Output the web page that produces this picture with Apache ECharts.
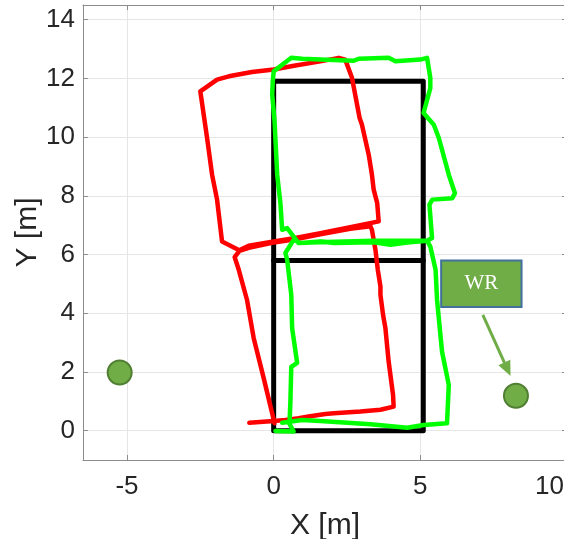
<!DOCTYPE html>
<html><head><meta charset="utf-8">
<script src="https://cdn.jsdelivr.net/npm/echarts@6/dist/echarts.min.js"></script>
<style>html,body{margin:0;padding:0;background:#fff}#c{width:564px;height:539px}</style>
</head><body><div id="c"></div>
<script>
// ---- data (metres) ----
const redX = [-0.83,0,0.40,0.85,1.19,1.76,2.05,2.96,3.64,4.09,4.07,3.92,3.81,3.73,3.64,3.64,3.55,3.47,3.35,3.30,2.61,1.59,0.74,-0.05,-0.85,-1.14,-1.76,-1.93,-2.10,-2.27,-2.50,-1.93,-1.53,-0.74,0,0.74,1.59,2.22,2.44,2.67,2.93,3.01,3.24,3.35,3.41,3.53,3.58,2.61,1.59,0.74,-0.05,-0.85,-1.14,-1.33,-1.19,-0.91,-0.68,-0.34,0.03];
const redY = [0.27,0.33,0.36,0.42,0.48,0.57,0.59,0.65,0.71,0.82,1.22,2.35,3.49,3.94,4.63,4.91,5.48,6.16,6.84,6.96,6.88,6.69,6.52,6.40,6.23,6.13,6.44,7.87,8.72,9.97,11.56,11.96,12.07,12.22,12.30,12.44,12.58,12.70,12.64,12.02,10.65,10.42,9.40,8.72,8.21,7.75,7.13,6.93,6.73,6.56,6.44,6.30,6.16,5.91,5.48,4.46,3.15,1.79,0.25];
const greenX = [0.06,0.68,0.54,0.57,0.60,0.80,0.63,0.60,0.46,0.40,0.68,0.91,1.59,2.05,3.41,3.98,4.55,5.23,5.40,5.31,5.41,6.09,6.18,5.97,5.63,5.46,5.11,5.34,5.34,5.23,5.00,4.15,3.92,2.90,2.73,1.59,0.97,0.60,0.00,-0.03,-0.05,0.03,0.12,0.23,0.29,0.46,0.85,1.76,3.41,5.23,5.34,5.52,5.57,5.63,5.74,5.97,5.91,5.11,4.55,3.30,1.59,0.97,0.29];
const greenY = [-0.01,-0.03,0.23,0.98,2.17,2.31,3.49,4.63,5.82,6.05,6.50,6.39,6.44,6.39,6.42,6.33,6.41,6.47,6.56,7.70,7.87,7.92,8.09,8.72,9.97,10.42,10.82,11.67,12.02,12.70,12.64,12.58,12.70,12.67,12.60,12.64,12.67,12.70,12.24,11.90,11.45,10.54,8.72,7.75,6.84,6.90,6.39,6.43,6.47,6.48,6.27,5.48,4.46,3.83,2.69,1.56,0.25,0.19,0.10,0.22,0.33,0.36,0.27];
const blackX = [0,5.1,5.1,0,0];
const blackY = [0,0,11.9,11.9,0];
const blackMidX = [0,5.1];
const blackMidY = [5.8,5.8];
const circleX = [-5.25,8.26];
const circleY = [1.98,1.19];
const boxX = [5.71,8.45];
const boxY = [5.80,4.21];
const boxLabel = 'WR';
const arrowX = [7.13,7.97];
const arrowY = [3.94,2.09];
const xName = 'X [m]';
const yName = 'Y [m]';
const xRange = [-6.5,10];
const yRange = [-1,14.5];

// ---- chart ----
const zip = (xs, ys) => xs.map((x, i) => [x, ys[i]]);
const FONT = "'Liberation Sans', Arial, Helvetica, sans-serif";
const AX = '#8c8c8c';
const TXT = '#262626';
const chart = echarts.init(document.getElementById('c'), null, {renderer: 'canvas'});

function mkX(pos, main) {
  return {
    type: 'value', position: pos, min: xRange[0], max: xRange[1], splitNumber: 3,
    axisLine: {show: true, onZero: false, lineStyle: {color: AX, width: 1}},
    axisTick: {show: true, inside: true, length: 5, lineStyle: {color: AX, width: 1}},
    axisLabel: main ? {show: true, showMinLabel: false, showMaxLabel: true, alignMaxLabel: 'right',
      color: TXT, fontSize: 26, fontFamily: FONT, margin: 14,
      formatter: v => (v === xRange[1] ? '{e|' + v + '}' : String(v)),
      rich: {e: {color: TXT, fontSize: 26, fontFamily: FONT, padding: [0, 3, 0, 0]}}} : {show: false},
    splitLine: {show: main, lineStyle: {color: '#e6e6e6', width: 1}},
    name: main ? xName : '', nameLocation: 'middle', nameGap: 51, nameMoveOverlap: false,
    nameTextStyle: {color: TXT, fontSize: 30, fontFamily: FONT}
  };
}
function mkY(pos, main) {
  return {
    type: 'value', position: pos, min: yRange[0], max: yRange[1], splitNumber: 7,
    axisLine: {show: true, onZero: false, lineStyle: {color: AX, width: 1}},
    axisTick: {show: true, inside: true, length: 5, lineStyle: {color: AX, width: 1}},
    axisLabel: main ? {show: true, showMinLabel: false, showMaxLabel: false,
      color: TXT, fontSize: 26, fontFamily: FONT, margin: 8} : {show: false},
    splitLine: {show: main, lineStyle: {color: '#e6e6e6', width: 1}},
    name: main ? yName : '', nameLocation: 'middle', nameGap: 40, nameMoveOverlap: false,
    nameTextStyle: {color: TXT, fontSize: 30, fontFamily: FONT}
  };
}

const lineSeries = (data, color, w, z) => ({
  type: 'line', data: data, showSymbol: false, symbol: 'none', z: z, silent: true,
  lineStyle: {color: color, width: w, join: 'round', cap: 'round'}
});

chart.setOption({
  animation: false,
  backgroundColor: '#ffffff',
  grid: {left: 83, right: -3, top: 5, bottom: 79, containLabel: false, outerBoundsMode: 'none'},
  xAxis: [mkX('bottom', true), mkX('top', false)],
  yAxis: [mkY('left', true), mkY('right', false)],
  series: [
    lineSeries(zip(blackX, blackY), '#000000', 5, 2),
    lineSeries(zip(blackMidX, blackMidY), '#000000', 5, 2),
    lineSeries(zip(redX, redY), '#ff0000', 4.5, 3),
    lineSeries(zip(greenX, greenY), '#00ff00', 4.5, 4),
    {
      type: 'scatter', data: zip(circleX, circleY), symbol: 'circle', symbolSize: 24, z: 5, silent: true,
      itemStyle: {color: '#70AD47', borderColor: '#507E32', borderWidth: 2, opacity: 1},
      markArea: {
        silent: true,
        itemStyle: {color: '#70AD47', borderColor: '#41719C', borderWidth: 2, opacity: 1},
        label: {show: true, position: 'inside', color: '#ffffff', fontSize: 21, fontFamily: "'Liberation Serif', 'Times New Roman', serif"},
        data: [[{name: boxLabel, coord: [boxX[0], boxY[0]]}, {coord: [boxX[1], boxY[1]]}]]
      },
      markLine: {
        silent: true, animation: false,
        symbol: ['none', 'triangle'], symbolSize: [13, 15],
        lineStyle: {color: '#70AD47', width: 3, type: 'solid'},
        label: {show: false},
        data: [[{coord: [arrowX[0], arrowY[0]]}, {coord: [arrowX[1], arrowY[1]]}]]
      }
    }
  ]
});
</script>
</body></html>
